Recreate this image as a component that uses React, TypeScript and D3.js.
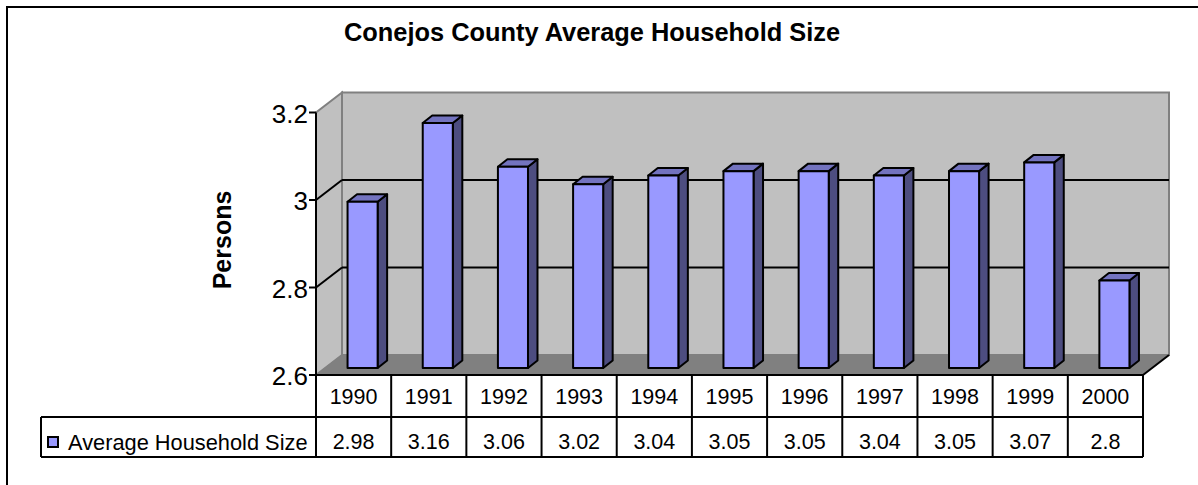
import React from "react";
import * as d3 from "d3";

const title = "Conejos County Average Household Size";
const yTitle = "Persons";
const seriesName = "Average Household Size";
const years = ["1990", "1991", "1992", "1993", "1994", "1995", "1996", "1997", "1998", "1999", "2000"];
const householdSize = [2.98, 3.16, 3.06, 3.02, 3.04, 3.05, 3.05, 3.04, 3.05, 3.07, 2.8];
const yTicks = [2.6, 2.8, 3.0, 3.2];

const W = 1198;
const H = 485;
const FONT = "'Liberation Sans', Arial, sans-serif";

export default function App() {
  // front plane of the 3D box
  const left = 316;
  const right = 1143;
  const bottom = 375;
  const top = 112.5;
  // depth offset of the back wall
  const DX = 26;
  const DY = -20;
  // bar placement in depth
  const bx = 9;
  const by = -7;
  const bdx = 9.5;
  const bdy = -7.5;

  const x = d3.scaleBand<string>().domain(years).range([left, right]).padding(0);
  const y = d3.scaleLinear().domain([2.6, 3.2]).range([bottom, top]);
  const bw = x.bandwidth() * 0.4;

  const rowLine = 417;
  const tableBottom = 457;
  const legendLeft = 41;

  const sideWall = `M${left},${bottom}L${left},${top}L${left + DX},${top + DY}L${left + DX},${bottom + DY}Z`;
  const floor = `M${left},${bottom}L${right},${bottom}L${right + DX},${bottom + DY}L${left + DX},${bottom + DY}Z`;

  return (
    <svg
      width={W}
      height={H}
      style={{ position: "fixed", left: 0, top: 0, background: "#fff", display: "block" }}
    >
      {/* chart area border (clipped at right/bottom) */}
      <rect x={7} y={7} width={W + 50} height={H + 50} fill="#fff" stroke="#000" strokeWidth={2} />

      <text x={592} y={41} textAnchor="middle" fontFamily={FONT} fontWeight="bold" fontSize={25.4}>
        {title}
      </text>

      {/* walls */}
      <rect
        x={left + DX}
        y={top + DY}
        width={right - left}
        height={bottom - top}
        fill="#c0c0c0"
        stroke="#808080"
        strokeWidth={2}
      />
      <path d={sideWall} fill="#c0c0c0" stroke="#808080" strokeWidth={2} />
      <path d={floor} fill="#808080" stroke="#808080" strokeWidth={1} />
      <line x1={right} y1={bottom} x2={right + DX} y2={bottom + DY} stroke="#000" strokeWidth={2} />

      {/* gridlines */}
      {yTicks
        .filter((t) => t > 2.6 && t < 3.2)
        .map((t) => (
          <g key={t}>
            <line x1={left + DX} x2={right + DX} y1={y(t) + DY} y2={y(t) + DY} stroke="#000" strokeWidth={2} />
            <line x1={left} x2={left + DX} y1={y(t)} y2={y(t) + DY} stroke="#000" strokeWidth={2} />
          </g>
        ))}

      {/* bars */}
      {years.map((yr, i) => {
        const x0 = (x(yr) as number) + (x.bandwidth() - bw) / 2 + bx;
        const y0 = y(householdSize[i]) + by;
        const yb = bottom + by;
        const topFace = `M${x0},${y0}L${x0 + bdx},${y0 + bdy}L${x0 + bw + bdx},${y0 + bdy}L${x0 + bw},${y0}Z`;
        const sideFace = `M${x0 + bw},${y0}L${x0 + bw + bdx},${y0 + bdy}L${x0 + bw + bdx},${yb + bdy}L${x0 + bw},${yb}Z`;
        return (
          <g key={yr} stroke="#000" strokeWidth={2} strokeLinejoin="round">
            <path d={sideFace} fill="#4d4d80" />
            <path d={topFace} fill="#7373bf" />
            <rect x={x0} y={y0} width={bw} height={yb - y0} fill="#9999ff" />
          </g>
        );
      })}

      {/* value axis */}
      <line x1={left} x2={left} y1={top} y2={bottom} stroke="#000" strokeWidth={2} />
      {yTicks.map((t) => (
        <g key={t}>
          <line x1={left - 7} x2={left} y1={y(t)} y2={y(t)} stroke="#000" strokeWidth={2} />
          <text x={left - 8} y={y(t) + 10} textAnchor="end" fontFamily={FONT} fontSize={26}>
            {String(t)}
          </text>
        </g>
      ))}
      <text
        transform={`translate(231,240) rotate(-90)`}
        textAnchor="middle"
        fontFamily={FONT}
        fontWeight="bold"
        fontSize={25}
      >
        {yTitle}
      </text>

      {/* data table */}
      <g stroke="#000" strokeWidth={2} fill="none">
        <line x1={left} x2={right} y1={bottom} y2={bottom} />
        <line x1={legendLeft} x2={right} y1={rowLine} y2={rowLine} />
        <line x1={legendLeft} x2={right} y1={tableBottom} y2={tableBottom} />
        <line x1={legendLeft} x2={legendLeft} y1={rowLine} y2={tableBottom} />
        {years.map((yr) => (
          <line key={yr} x1={x(yr) as number} x2={x(yr) as number} y1={bottom} y2={tableBottom} />
        ))}
        <line x1={right} x2={right} y1={bottom} y2={tableBottom} />
      </g>
      {years.map((yr, i) => (
        <g key={yr} fontFamily={FONT} fontSize={21.5} textAnchor="middle">
          <text x={(x(yr) as number) + x.bandwidth() / 2} y={404}>
            {yr}
          </text>
          <text x={(x(yr) as number) + x.bandwidth() / 2} y={449}>
            {String(householdSize[i])}
          </text>
        </g>
      ))}
      <rect x={48} y={437} width={10} height={10} fill="#9999ff" stroke="#000" strokeWidth={2} />
      <text x={68} y={450} fontFamily={FONT} fontSize={21.8}>
        {seriesName}
      </text>
    </svg>
  );
}
